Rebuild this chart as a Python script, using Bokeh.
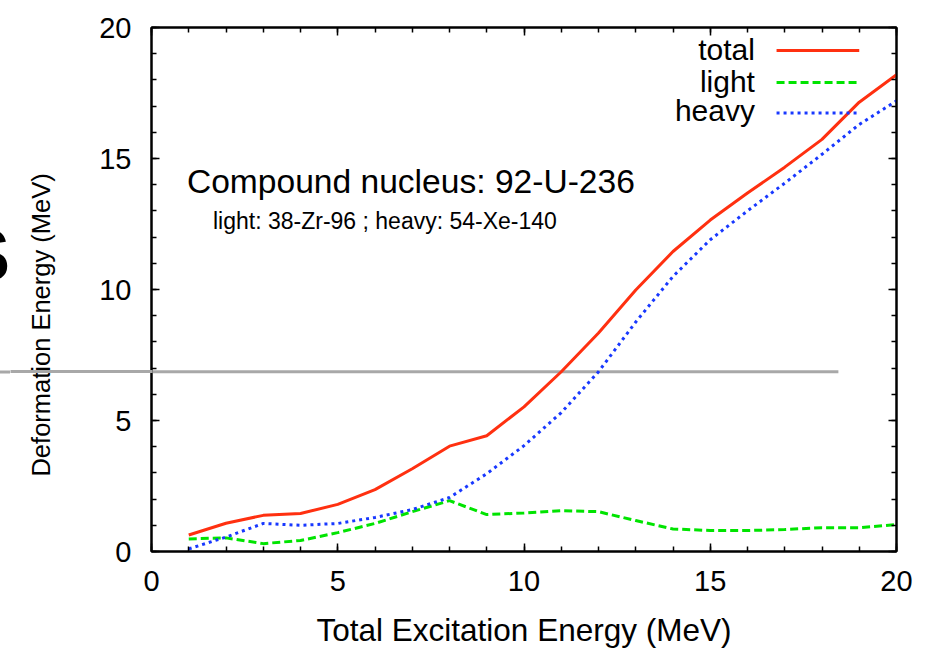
import numpy as np
from bokeh.plotting import figure
from bokeh.layouts import row
from bokeh.models import Range1d, LinearAxis, SingleIntervalTicker, FixedTicker, Label, Div
from bokeh.embed import file_html
from bokeh.resources import INLINE

# Deformation energy of the fragments vs. total excitation energy (MeV)
excitation = [1, 2, 3, 4, 5, 6, 7, 8, 9, 10, 11, 12, 13, 14, 15, 16, 17, 18, 19, 20]
total = [0.63, 1.08, 1.38, 1.45, 1.80, 2.36, 3.16, 4.02, 4.42, 5.52, 6.86, 8.34,
         9.98, 11.45, 12.65, 13.68, 14.67, 15.73, 17.15, 18.20]
light = [0.48, 0.52, 0.30, 0.42, 0.72, 1.07, 1.52, 1.94, 1.41, 1.47, 1.56, 1.52,
         1.18, 0.86, 0.80, 0.80, 0.84, 0.91, 0.91, 1.03]
heavy = [0.10, 0.55, 1.07, 1.00, 1.07, 1.30, 1.60, 2.06, 2.97, 4.04, 5.30, 6.86,
         8.76, 10.50, 11.90, 13.00, 14.06, 15.16, 16.30, 17.20]

series_names = ["total", "light", "heavy"]
series_colors = ["#ff3010", "#00e400", "#1838ff"]
series_dashes = ["solid", "8 4", "3 4"]

x_ticks_interval = 5
y_ticks_interval = 5

# grey horizontal rule across the panel
rule_y = 6.86
rule_x = [0, 18.44]

FONT = "Liberation Sans"
GREY = "#a8a8a8"
STRIP_W = 10  # narrow strip at the far left holding the cut-off letter

p = figure(width=941 - STRIP_W, height=650, x_range=Range1d(0, 20), y_range=Range1d(0, 20),
           x_axis_type=None, y_axis_type=None,
           output_backend="svg", toolbar_location=None,
           min_border_left=150 - STRIP_W, min_border_right=45, min_border_top=27,
           min_border_bottom=98)
p.grid.visible = False
p.outline_line_color = "black"
p.outline_line_width = 2
p.background_fill_color = "white"
p.border_fill_color = "white"


def make_axis(interval, show_labels, standoff=17):
    ax = LinearAxis(ticker=SingleIntervalTicker(interval=interval, num_minor_ticks=5))
    ax.axis_line_color = "black"
    ax.axis_line_width = 2
    ax.major_tick_in = 8
    ax.major_tick_out = 0
    ax.minor_tick_in = 5
    ax.minor_tick_out = 0
    ax.major_tick_line_width = 1.5
    ax.minor_tick_line_width = 1.5
    ax.major_label_text_font = FONT
    ax.axis_label_text_font = FONT
    ax.axis_label_text_font_style = "normal"
    ax.axis_label_text_color = "black"
    if show_labels:
        ax.major_label_text_font_size = "29px"
        ax.major_label_text_color = "black"
        ax.major_label_standoff = standoff
    else:
        ax.major_label_text_font_size = "0px"
        ax.major_label_text_alpha = 0
        ax.major_label_standoff = 0
    return ax


xaxis = make_axis(x_ticks_interval, True, 19)
xaxis.axis_label = "Total Excitation Energy (MeV)"
xaxis.axis_label_text_font_size = "31.5px"
xaxis.axis_label_standoff = 18
p.add_layout(xaxis, "below")

yaxis = make_axis(y_ticks_interval, True, 20)
# trailing no-break spaces push the title a little below the centre of the axis
yaxis.axis_label = "Deformation Energy (MeV)" + "\u00a0" * 10
yaxis.axis_label_text_font_size = "25.5px"
yaxis.axis_label_standoff = 41
p.add_layout(yaxis, "left")

p.add_layout(make_axis(x_ticks_interval, False), "above")
p.add_layout(make_axis(y_ticks_interval, False), "right")

# outer left axis carrying only the grey rule through the margin
rule_axis = LinearAxis(ticker=FixedTicker(ticks=[], minor_ticks=[rule_y]))
rule_axis.axis_line_color = None
rule_axis.major_tick_line_color = None
rule_axis.major_tick_in = 0
rule_axis.major_tick_out = 0
rule_axis.minor_tick_line_color = GREY
rule_axis.minor_tick_line_width = 3
rule_axis.minor_tick_line_cap = "butt"
rule_axis.minor_tick_in = 128
rule_axis.minor_tick_out = 14
rule_axis.major_label_text_font_size = "0px"
rule_axis.major_label_standoff = 0
p.add_layout(rule_axis, "left")

p.line(rule_x, [rule_y, rule_y], line_color=GREY, line_width=3)

# curves
for ys, name, color, dash in zip([total, light, heavy], series_names, series_colors, series_dashes):
    p.line(excitation, ys, line_color=color, line_width=3, line_dash=dash)

# legend: text on the left, line sample on the right
legend_text_y = [19.16, 17.94, 16.82]
legend_line_y = [19.12, 17.90, 16.74]
legend_line_x = [16.78, 19.0]
for name, color, dash, ty, ly in zip(series_names, series_colors, series_dashes,
                                     legend_text_y, legend_line_y):
    p.add_layout(Label(x=16.2, y=ty, text=name, text_align="right", text_baseline="alphabetic",
                       text_font=FONT, text_font_size="30px", text_color="black"))
    p.line(legend_line_x, [ly, ly], line_color=color, line_width=3, line_dash=dash)

# annotations
p.add_layout(Label(x=0.95, y=14.11, text="Compound nucleus: 92-U-236",
                   text_align="left", text_baseline="alphabetic",
                   text_font=FONT, text_font_size="33.6px", text_color="black"))
p.add_layout(Label(x=1.65, y=12.6, text="light: 38-Zr-96 ; heavy: 54-Xe-140",
                   text_align="left", text_baseline="alphabetic",
                   text_font=FONT, text_font_size="23px", text_color="black"))

# left strip: edge of a large bold letter and the start of the grey rule
strip_svg = (
    f'<svg xmlns="http://www.w3.org/2000/svg" width="{STRIP_W}" height="650" '
    f'style="display:block">'
    f'<rect x="0" y="370.5" width="{STRIP_W}" height="3" fill="{GREY}"/>'
    f'<text x="10.2" y="281" text-anchor="end" font-family="{FONT}" '
    f'font-weight="bold" font-size="74" fill="black">S</text>'
    f'</svg>'
)
strip = Div(text=strip_svg, width=STRIP_W, height=650, margin=0,
            styles={"overflow": "hidden"})

layout = row(strip, p, spacing=0)
open("out.html", "w").write(file_html(layout, INLINE))
